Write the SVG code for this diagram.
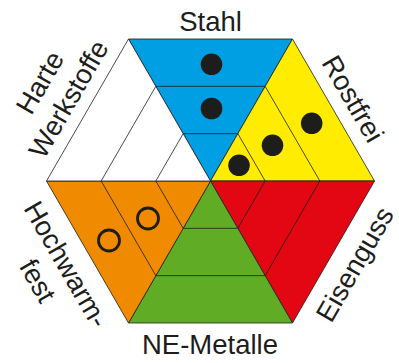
<svg xmlns="http://www.w3.org/2000/svg" width="399" height="363" viewBox="0 0 399 363">
<style>
.sec{stroke:#1d1d1b;stroke-width:0.8;stroke-linejoin:round}
.band{stroke:#1d1d1b;stroke-width:0.8;fill:none}
.dot{fill:#1d1d1b}
.ring{fill:none;stroke:#1d1d1b;stroke-width:2.8}
.lbl{font-family:"Liberation Sans",Arial,sans-serif;font-size:27.5px;fill:#1d1d1b;text-anchor:middle}
</style>
<rect width="399" height="363" fill="#ffffff"/>
<g id="stahl">
<polygon class="sec" fill="#009ee2" points="210.5,181 128.5,39 292.5,39"/>
<line class="band" x1="155.83" y1="86.33" x2="265.17" y2="86.33"/>
<line class="band" x1="183.17" y1="133.67" x2="237.83" y2="133.67"/>
<circle class="dot" cx="211.5" cy="64.3" r="10.8"/>
<circle class="dot" cx="211.5" cy="108.5" r="10.8"/>
<text class="lbl" x="210.5" y="30.5">Stahl</text>
</g>
<g id="rostfrei">
<polygon class="sec" fill="#ffec00" points="210.5,181 292.5,39 374.5,181"/>
<line class="band" x1="265.17" y1="86.33" x2="319.83" y2="181"/>
<line class="band" x1="237.83" y1="133.67" x2="265.17" y2="181"/>
<circle class="dot" cx="239" cy="165.3" r="10.8"/>
<circle class="dot" cx="272.5" cy="145.3" r="10.8"/>
<circle class="dot" cx="311.7" cy="123.3" r="10.8"/>
<text class="lbl" transform="translate(333.5,110) rotate(60)" x="0" y="-13">Rostfrei</text>
</g>
<g id="eisenguss">
<polygon class="sec" fill="#e30613" points="210.5,181 374.5,181 292.5,323"/>
<line class="band" x1="319.83" y1="181" x2="265.17" y2="275.67"/>
<line class="band" x1="265.17" y1="181" x2="237.83" y2="228.33"/>
<text class="lbl" transform="translate(333.5,252) rotate(-60)" x="0" y="34">Eisenguss</text>
</g>
<g id="ne-metalle">
<polygon class="sec" fill="#60ad25" points="210.5,181 292.5,323 128.5,323"/>
<line class="band" x1="265.17" y1="275.67" x2="155.83" y2="275.67"/>
<line class="band" x1="237.83" y1="228.33" x2="183.17" y2="228.33"/>
<text class="lbl" x="210" y="353.5">NE-Metalle</text>
</g>
<g id="hochwarmfest">
<polygon class="sec" fill="#f08a00" points="210.5,181 128.5,323 46.5,181"/>
<line class="band" x1="155.83" y1="275.67" x2="101.17" y2="181"/>
<line class="band" x1="183.17" y1="228.33" x2="155.83" y2="181"/>
<circle class="ring" cx="148" cy="218.5" r="10.5"/>
<circle class="ring" cx="109" cy="240.5" r="10.5"/>
<text class="lbl" transform="translate(87.5,252) rotate(60)"><tspan x="0" y="34">Hochwarm-</tspan><tspan x="0" y="67">fest</tspan></text>
</g>
<g id="harte-werkstoffe">
<polygon class="sec" fill="#ffffff" points="210.5,181 46.5,181 128.5,39"/>
<line class="band" x1="101.17" y1="181" x2="155.83" y2="86.33"/>
<line class="band" x1="155.83" y1="181" x2="183.17" y2="133.67"/>
<text class="lbl" transform="translate(87.5,110) rotate(-60)"><tspan x="0" y="-45.5">Harte</tspan><tspan x="0" y="-12.5">Werkstoffe</tspan></text>
</g>
</svg>
